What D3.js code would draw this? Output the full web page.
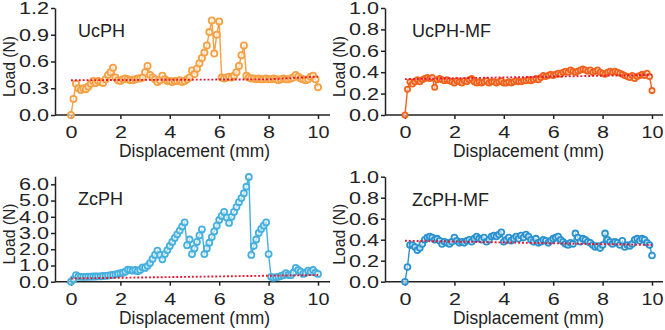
<!DOCTYPE html>
<html>
<head>
<meta charset="utf-8">
<script src="https://cdn.jsdelivr.net/npm/d3@7"></script>
<style>
  html, body { margin: 0; padding: 0; background: #fff; }
  svg { display: block; font-family: "Liberation Sans", Arial, sans-serif; }
</style>
</head>
<body>
<svg id="chart" width="665" height="330"></svg>
<script>
// displacement sampled every 0.1 mm from 0 to 10
const step = 0.1;

// load (N)
const ucph = [
  0.00, 0.18, 0.35, 0.30, 0.28, 0.30, 0.29, 0.32, 0.35, 0.38,
  0.36, 0.38, 0.37, 0.36, 0.40, 0.45, 0.48, 0.53, 0.42, 0.39,
  0.38, 0.40, 0.41, 0.40, 0.39, 0.39, 0.40, 0.41, 0.41, 0.42,
  0.48, 0.55, 0.45, 0.42, 0.40, 0.37, 0.39, 0.44, 0.40, 0.38,
  0.38, 0.37, 0.38, 0.38, 0.39, 0.37, 0.38, 0.40, 0.42, 0.50,
  0.46, 0.52, 0.58, 0.64, 0.70, 0.78, 0.93, 1.06, 0.69, 0.90,
  1.05, 0.42, 0.41, 0.42, 0.43, 0.42, 0.44, 0.48, 0.55, 0.67,
  0.78, 0.44, 0.42, 0.41, 0.41, 0.40, 0.41, 0.40, 0.40, 0.41,
  0.40, 0.40, 0.41, 0.40, 0.39, 0.40, 0.41, 0.40, 0.40, 0.41,
  0.42, 0.45, 0.43, 0.41, 0.40, 0.39, 0.40, 0.43, 0.44, 0.40,
  0.31
];

const ucphMf = [
  0.00, 0.24, 0.31, 0.29, 0.31, 0.33, 0.31, 0.33, 0.34, 0.35,
  0.34, 0.35, 0.26, 0.33, 0.34, 0.33, 0.32, 0.33, 0.32, 0.31,
  0.30, 0.32, 0.31, 0.30, 0.32, 0.31, 0.33, 0.34, 0.31, 0.30,
  0.31, 0.30, 0.31, 0.32, 0.30, 0.31, 0.31, 0.30, 0.31, 0.32,
  0.30, 0.30, 0.31, 0.30, 0.31, 0.32, 0.31, 0.31, 0.32, 0.32,
  0.33, 0.32, 0.33, 0.34, 0.33, 0.35, 0.37, 0.36, 0.37, 0.38,
  0.37, 0.38, 0.39, 0.38, 0.40, 0.41, 0.40, 0.42, 0.41, 0.40,
  0.41, 0.42, 0.43, 0.42, 0.41, 0.42, 0.40, 0.41, 0.42, 0.40,
  0.39, 0.38, 0.40, 0.41, 0.40, 0.41, 0.40, 0.39, 0.38, 0.37,
  0.36, 0.35, 0.37, 0.34, 0.36, 0.37, 0.38, 0.37, 0.39, 0.36,
  0.23
];

const zcph = [
  0.00, 0.15, 0.40, 0.32, 0.30, 0.30, 0.30, 0.31, 0.31, 0.32,
  0.32, 0.33, 0.33, 0.35, 0.36, 0.38, 0.40, 0.42, 0.45, 0.48,
  0.52, 0.55, 0.62, 0.75, 0.72, 0.68, 0.72, 0.65, 0.72, 0.88,
  0.85, 0.98, 1.15, 1.40, 1.65, 1.92, 1.65, 1.38, 1.70, 1.95,
  2.20, 2.45, 2.70, 2.92, 3.15, 3.40, 3.65, 2.25, 2.60, 1.70,
  2.05, 2.45, 2.85, 3.22, 1.70, 2.05, 2.40, 2.75, 3.10, 3.45,
  3.80, 4.05, 4.30, 3.95, 3.62, 4.00, 4.30, 4.60, 4.90, 5.15,
  5.45, 5.85, 6.45, 1.65, 2.20, 2.60, 3.00, 3.25, 3.45, 3.65,
  1.70, 0.30, 0.25, 0.28, 0.30, 0.35, 0.40, 0.52, 0.42, 0.40,
  0.55, 0.85, 0.72, 0.62, 0.48, 0.55, 0.68, 0.60, 0.72, 0.55,
  0.48
];

const zcphMf = [
  0.00, 0.14, 0.35, 0.35, 0.33, 0.30, 0.32, 0.36, 0.40, 0.42,
  0.43, 0.42, 0.40, 0.41, 0.39, 0.36, 0.38, 0.37, 0.36, 0.38,
  0.42, 0.39, 0.37, 0.38, 0.37, 0.39, 0.40, 0.38, 0.41, 0.43,
  0.41, 0.40, 0.42, 0.38, 0.40, 0.43, 0.44, 0.43, 0.45, 0.47,
  0.38, 0.40, 0.42, 0.39, 0.41, 0.43, 0.41, 0.44, 0.42, 0.45,
  0.43, 0.40, 0.38, 0.41, 0.37, 0.38, 0.40, 0.39, 0.37, 0.39,
  0.41, 0.42, 0.43, 0.40, 0.38, 0.36, 0.35, 0.37, 0.36, 0.46,
  0.42, 0.38, 0.41, 0.40, 0.38, 0.37, 0.35, 0.33, 0.34, 0.32,
  0.35, 0.46, 0.40, 0.38, 0.36, 0.38, 0.37, 0.35, 0.39, 0.33,
  0.35, 0.34, 0.36, 0.40, 0.41, 0.39, 0.41, 0.40, 0.37, 0.35,
  0.25
];

// red dotted reference lines: [x, load] end points
const ucphFit = [[0, 0.39], [8, 0.40], [10, 0.43]];
const ucphMfFit = [[0, 0.335], [10, 0.375]];
const zcphFit = [[0, 0.20], [10, 0.41]];
const zcphMfFit = [[0, 0.39], [10, 0.35]];

const titles = ["UcPH", "UcPH-MF", "ZcPH", "ZcPH-MF"];
const yTicksTop = [0, 0.3, 0.6, 0.9, 1.2];
const yTicksMf = [0, 0.2, 0.4, 0.6, 0.8, 1.0];
const yTicksZc = [0, 1, 2, 3, 4, 5, 6];
const xTicks = [0, 2, 4, 6, 8, 10];

const panels = [
  { title: titles[0], values: ucph, fit: ucphFit, color: "#f5a043", yMax: 1.2, yTicks: yTicksTop,
    axisX: 55, x0: 71, x1: 318, xEnd: 330, yTop: 8, yBot: 115, r: 3.1 },
  { title: titles[1], values: ucphMf, fit: ucphMfFit, color: "#f2601a", yMax: 1.0, yTicks: yTicksMf,
    axisX: 385, x0: 405, x1: 652, xEnd: 663, yTop: 8, yBot: 115, r: 2.6 },
  { title: titles[2], values: zcph, fit: zcphFit, color: "#45b0de", yMax: 6.5, yTicks: yTicksZc,
    axisX: 55, x0: 71, x1: 318, xEnd: 330, yTop: 176.2, yBot: 281.7, r: 3 },
  { title: titles[3], values: zcphMf, fit: zcphMfFit, color: "#2a92cf", yMax: 1.0, yTicks: yTicksMf,
    axisX: 385, x0: 405, x1: 652, xEnd: 663, yTop: 176.7, yBot: 281.7, r: 2.9 }
];

const svg = d3.select("#chart");
const fmt = d3.format(".1f");

panels.forEach((p) => {
  const g = svg.append("g");
  const x = d3.scaleLinear().domain([0, 10]).range([p.x0, p.x1]);
  const y = d3.scaleLinear().domain([0, p.yMax]).range([p.yBot, p.yTop]);
  const pts = p.values.map((v, i) => [i * step, v]);

  // axes
  const yAxis = g.append("g")
    .attr("transform", `translate(${p.axisX},0)`)
    .call(d3.axisLeft(y).tickValues(p.yTicks).tickFormat(fmt).tickSize(4).tickSizeOuter(0).tickPadding(2));
  const xAxis = g.append("g")
    .attr("transform", `translate(0,${p.yBot})`)
    .call(d3.axisBottom(x).tickValues(xTicks).tickFormat(d3.format("d")).tickSize(4).tickSizeOuter(0).tickPadding(7));
  xAxis.select(".domain").remove();
  xAxis.append("line")
    .attr("x1", p.axisX).attr("x2", p.xEnd)
    .attr("stroke", "#222").attr("stroke-width", 1.5);

  [yAxis, xAxis].forEach((a) => {
    a.selectAll(".domain").attr("stroke", "#222").attr("stroke-width", 1.5);
    a.selectAll(".tick line").attr("stroke", "#222").attr("stroke-width", 1.5);
    a.selectAll(".tick text")
      .attr("fill", "#222")
      .style("font-size", "17px")
      .style("font-family", "'Liberation Sans', Arial, sans-serif")
      .attr("lengthAdjust", "spacingAndGlyphs");
  });
  // the digits in the figure are drawn wide
  yAxis.selectAll(".tick text").attr("textLength", 30);
  xAxis.selectAll(".tick text").attr("textLength", (d) => (d >= 10 ? 22 : 12));

  g.append("text")
    .attr("x", (p.x0 + p.x1) / 2)
    .attr("y", p.yBot + 42)
    .attr("text-anchor", "middle")
    .attr("fill", "#222")
    .style("font-size", "18px")
    .attr("textLength", 151)
    .attr("lengthAdjust", "spacingAndGlyphs")
    .text("Displacement (mm)");

  g.append("text")
    .attr("transform", `translate(${p.axisX - 40},${(p.yTop + p.yBot) / 2 + 5}) rotate(-90)`)
    .attr("text-anchor", "middle")
    .attr("fill", "#222")
    .style("font-size", "17px")
    .attr("textLength", 61)
    .attr("lengthAdjust", "spacingAndGlyphs")
    .text("Load (N)");

  g.append("text")
    .attr("x", p.x0 + 7)
    .attr("y", p.yTop + 29)
    .attr("fill", "#222")
    .style("font-size", "18px")
    .text(p.title);

  // data
  const line = d3.line().x((d) => x(d[0])).y((d) => y(d[1]));
  g.append("path")
    .datum(pts)
    .attr("d", line)
    .attr("fill", "none")
    .attr("stroke", p.color)
    .attr("stroke-width", 1.4);

  g.append("g")
    .selectAll("circle")
    .data(pts)
    .join("circle")
    .attr("cx", (d) => x(d[0]))
    .attr("cy", (d) => y(d[1]))
    .attr("r", p.r)
    .attr("fill", "#fff")
    .attr("fill-opacity", 0.6)
    .attr("stroke", p.color)
    .attr("stroke-width", 1.8);

  g.append("path")
    .datum(p.fit)
    .attr("d", line)
    .attr("fill", "none")
    .attr("stroke", "#e8142f")
    .attr("stroke-width", 1.9)
    .attr("stroke-dasharray", "1.9,2");
});
</script>
</body>
</html>
